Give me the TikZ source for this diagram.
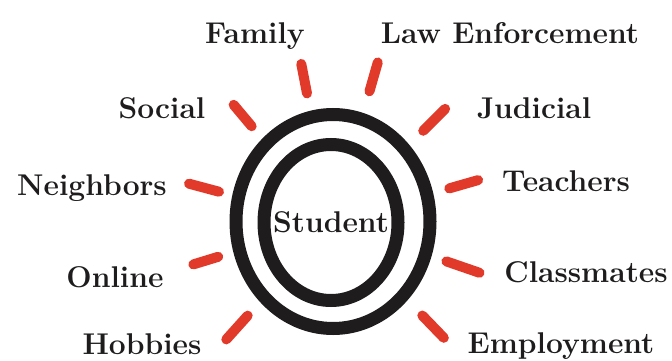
\documentclass[tikz,border=0pt]{standalone}
\usepackage{amsmath,amssymb}

\definecolor{rayred}{RGB}{226,58,42}
\definecolor{ink}{RGB}{30,28,28}
\tikzset{
 ray/.style={line width=10pt, line cap=round, rayred},
 ring/.style={line width=13pt, ink},
 lbl/.style={anchor=base, inner sep=0pt, text=ink, font=\fontsize{30}{36}\selectfont\bfseries}
}

\begin{document}
\begin{tikzpicture}[x=1pt,y=1pt]
\useasboundingbox (0,0) rectangle (672,360);

\coordinate (c) at (332,138);
\node [lbl] (student) at (331,128) {Student};

\draw [ring] (333,138.5) ellipse (97pt and 107pt);
\draw [ring] (331,137.5) ellipse (67pt and 78pt);

% rays, going round from the top
\draw [ray] (c) ++(101:131) -- ++(101:30);
\draw [ray] (c) ++(74:136) -- ++(74:30);
\draw [ray] (c) ++(45:129) -- ++(45:31);
\draw [ray] (c) ++(16:122) -- ++(16:30);
\draw [ray] (c) ++(-19:121) -- ++(-19:35);
\draw [ray] (c) ++(-46:130) -- ++(-46:31);
\draw [ray] (c) ++(228:126) -- ++(228:32);
\draw [ray] (c) ++(197:119) -- ++(197:26);
\draw [ray] (c) ++(165:117) -- ++(165:31);
\draw [ray] (c) ++(130:125) -- ++(130:28);

\node [lbl] (family) at (255,317) {Family};
\node [lbl] (law) at (510,317) {Law Enforcement};
\node [lbl] (social) at (162,242) {Social};
\node [lbl] (judicial) at (534,242) {Judicial};
\node [lbl] (neighbors) at (92,165) {Neighbors};
\node [lbl] (teachers) at (566,169) {Teachers};
\node [lbl] (online) at (115,73) {Online};
\node [lbl] (classmates) at (586,78) {Classmates};
\node [lbl] (hobbies) at (142,6) {Hobbies};
\node [lbl] (employment) at (561,7) {Employment};

\end{tikzpicture}
\end{document}
